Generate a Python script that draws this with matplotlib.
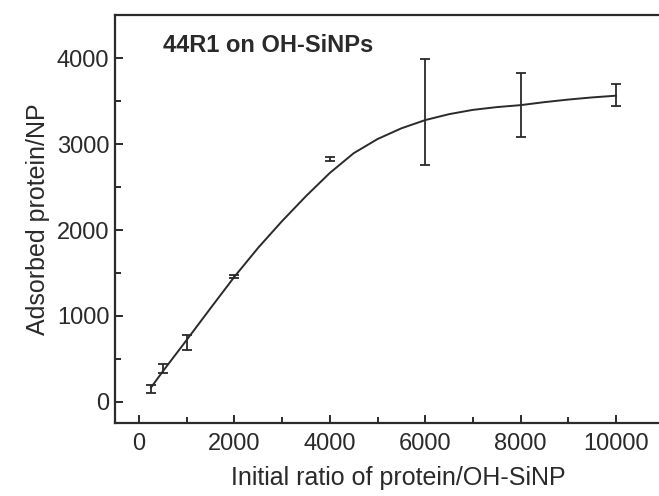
import matplotlib
matplotlib.use('Agg')
import matplotlib.pyplot as plt
from matplotlib.ticker import MultipleLocator

plt.rcParams['font.family'] = ['Liberation Sans', 'DejaVu Sans']

# measured points (initial ratio, adsorbed protein per NP, error)
ratio = [250, 500, 1000, 2000, 4000, 6000, 8000, 10000]
adsorbed = [148, 383, 690, 1456, 2827, 3370, 3454, 3570]
err = [45, 52, 88, 15, 20, 617, 371, 127]

# fitted curve
fit_x = [250, 500, 1000, 1500, 2000, 2500, 3000, 3500, 4000, 4500, 5000,
         5500, 6000, 6500, 7000, 7500, 8000, 8500, 9000, 9500, 10000]
fit_y = [165, 355, 720, 1090, 1456, 1795, 2105, 2395, 2665, 2895, 3060,
         3185, 3281, 3350, 3400, 3432, 3455, 3490, 3520, 3545, 3565]

ink = '#2a2a2a'

fig = plt.figure(figsize=(6.59, 4.96), dpi=100)
ax = fig.add_axes([0.1745, 0.1472, 0.8255, 0.8226])

ax.plot(fit_x, fit_y, color=ink, lw=1.4)
ax.errorbar(ratio, adsorbed, yerr=err, fmt='none', ecolor=ink,
            elinewidth=1.3, capsize=3.5, capthick=1.3)

ax.set_xlim(-503, 10900)
ax.set_ylim(-247, 4505)
ax.xaxis.set_major_locator(MultipleLocator(2000))
ax.xaxis.set_minor_locator(MultipleLocator(1000))
ax.yaxis.set_major_locator(MultipleLocator(1000))
ax.yaxis.set_minor_locator(MultipleLocator(500))

for side in ['left', 'bottom', 'top']:
    ax.spines[side].set_linewidth(1.6)
    ax.spines[side].set_color(ink)
ax.spines['right'].set_visible(False)

ax.tick_params(which='both', direction='in', colors=ink, labelsize=17,
               width=1.4, top=False, right=False)
ax.tick_params(which='major', length=6)
ax.tick_params(which='minor', length=4)
ax.tick_params(axis='x', pad=7)
ax.tick_params(axis='y', pad=4)

xl = ax.set_xlabel('Initial ratio of protein/OH-SiNP', fontsize=18,
                   color=ink, va='center')
ax.xaxis.set_label_coords(0.52, -0.135)
ax.set_ylabel('Adsorbed protein/NP', fontsize=18, color=ink, labelpad=5)
ax.text(0.088, 0.926, '44R1 on OH-SiNPs', transform=ax.transAxes,
        fontsize=17, fontweight='bold', color=ink, va='center')

fig.savefig('out.png', dpi=100)
